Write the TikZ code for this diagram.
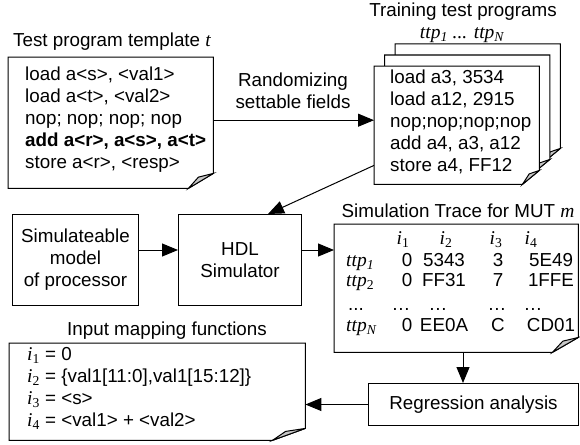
\documentclass[tikz,border=0pt]{standalone}
\usepackage{fontspec}
\setmainfont{Liberation Sans}
\newfontfamily\tms{Liberation Serif}
\usetikzlibrary{arrows.meta,backgrounds}

\definecolor{flapgray}{gray}{0.78}
\newcommand{\itm}[1]{{\tms\itshape\fontsize{19.5}{22}\selectfont #1}}
\newcommand{\iv}[1]{{\tms\fontsize{19.5}{22}\selectfont\textit{i}\textsubscript{#1}}}
\newcommand{\ttpv}[1]{{\tms\fontsize{19.5}{22}\selectfont\textit{ttp}\textsubscript{#1}}}

\tikzset{
  box/.style={draw, line width=1pt, anchor=north west, inner sep=0pt, align=center},
  page/.style={anchor=north west, inner sep=0pt},
  listing/.style={anchor=west, inner sep=0pt, align=left},
  cell/.style={anchor=base, inner sep=0pt},
  arr/.style={line width=1pt, -{Triangle[length=16pt,width=13pt]}},
  outline/.style={line width=1pt, fill=white},
  flap/.style={line width=1pt, fill=flapgray},
}

% page outline with a folded corner, drawn round a named node
\newcommand{\docnote}[3]{%
  \draw[outline] (#1.north west) -- (#1.north east) -- ([yshift=#3]#1.south east)
    -- ([xshift=-#2]#1.south east) -- (#1.south west) -- cycle;
  \draw[flap] ([xshift=-#2]#1.south east) -- ([yshift=#3]#1.south east)
    -- ([xshift=-0.6*#2, yshift=0.75*#3]#1.south east) -- cycle;
}

\begin{document}
\begin{tikzpicture}[x=1pt, y=-1pt, font=\fontsize{18.8}{22}\selectfont]
\useasboundingbox (0,0) rectangle (580,444);

% document pages
\node[page, minimum width=205pt, minimum height=131pt] (tpl) at (8,57) {};
\node[page, minimum width=165pt, minimum height=118pt] (ttpc) at (395,44) {};
\node[page, minimum width=165pt, minimum height=118pt] (ttpb) at (384.5,55) {};
\node[page, minimum width=165pt, minimum height=118pt] (ttp) at (374,66) {};
\node[page, minimum width=244pt, minimum height=128pt] (trace) at (334,224) {};
\node[page, minimum width=296pt, minimum height=97pt] (imap) at (9,343) {};

\begin{pgfonlayer}{background}
  \docnote{tpl}{25pt}{15pt}
  \docnote{ttpc}{17pt}{14pt}
  \docnote{ttpb}{17pt}{14pt}
  \docnote{ttp}{17pt}{14pt}
  \docnote{trace}{26pt}{15pt}
  \docnote{imap}{33pt}{12pt}
\end{pgfonlayer}

% plain boxes
\node[box, minimum width=126pt, minimum height=91pt] (model) at (12,214) {Simulateable\\model\\of processor};
\node[box, minimum width=123pt, minimum height=91pt] (hdl) at (178,214) {HDL\\Simulator};
\node[box, minimum width=210pt, minimum height=42pt] (regr) at (368,383) {Regression analysis};

% titles
\node[anchor=base] (tpltitle) at (112,47) {Test program template \itm{t}};
\node[anchor=base] (ttptitle) at (463,17) {Training test programs};
\node[anchor=base] (ttpnames) at (462,38) {\itm{ttp\textsubscript{1} ... ttp\textsubscript{N}}};
\node[anchor=base east] (trctitle) at (578,217) {Simulation Trace for MUT \itm{m}};
\node[anchor=base] (maptitle) at (167,335) {Input mapping functions};

% page contents
\node[listing] (tpltext) at ([xshift=17pt, yshift=3pt]tpl.west) {load a<s>, <val1>\\load a<t>, <val2>\\nop; nop; nop; nop\\\textbf{add a<r>, a<s>, a<t>}\\store a<r>, <resp>};
\node[listing] (ttptext) at ([xshift=16pt, yshift=3.5pt]ttp.west) {load a3, 3534\\load a12, 2915\\nop;nop;nop;nop\\add a4, a3, a12\\store a4, FF12};
\node[listing] (imaptext) at ([xshift=18pt, yshift=3.5pt]imap.west) {\iv{1} = 0\\\iv{2} = \{val1[11:0],val1[15:12]\}\\\iv{3} = <s>\\\iv{4} = <val1> + <val2>};

% trace table
\foreach \txt/\x [count=\k] in {1/403, 2/446, 3/496, 4/531}
  \node[cell] (head-\k) at (\x,244) {\iv{\txt}};
\foreach \y/\lab/\va/\vb/\vc/\vd [count=\r] in {266/\textit{1}/0/5343/3/5E49, 286/2/0/FF31/7/1FFE, 331/\textit{N}/0/EE0A/C/CD01} {
  \node[cell, anchor=base west] (lab-\r) at (346,\y) {\ttpv{\lab}};
  \node[cell] (va-\r) at (407,\y) {\va};
  \node[cell] (vb-\r) at (444,\y) {\vb};
  \node[cell] (vc-\r) at (498,\y) {\vc};
  \node[cell] (vd-\r) at (551,\y) {\vd};
}
\node[cell, anchor=base west] (lab-dots) at (348,310) {...};
\foreach \x [count=\k] in {401, 438, 497, 533}
  \node[cell] (dots-\k) at (\x,310) {\textellipsis};

% connectors
\coordinate (randy) at ([yshift=2.5pt]tpl.east);
\draw[arr] (randy) -- (randy -| ttp.west);
\node[align=center] (randlbl) at (293,91) {Randomizing\\settable fields};

\coordinate (simlvl) at (0,250);
\draw[arr] (model.east |- simlvl) -- (hdl.west |- simlvl);
\draw[arr] (hdl.east |- simlvl) -- (trace.west |- simlvl);

\coordinate (ttpout) at ([yshift=19pt]ttp.south west);
\coordinate (hdlin) at ([xshift=28pt]hdl.north);
\draw[arr] (ttpout) -- (hdlin);

\coordinate (regrcol) at (463,0);
\draw[arr] (trace.south -| regrcol) -- (regr.north -| regrcol);
\draw[arr] (regr.west) -- (regr.west -| imap.east);
\end{tikzpicture}
\end{document}
